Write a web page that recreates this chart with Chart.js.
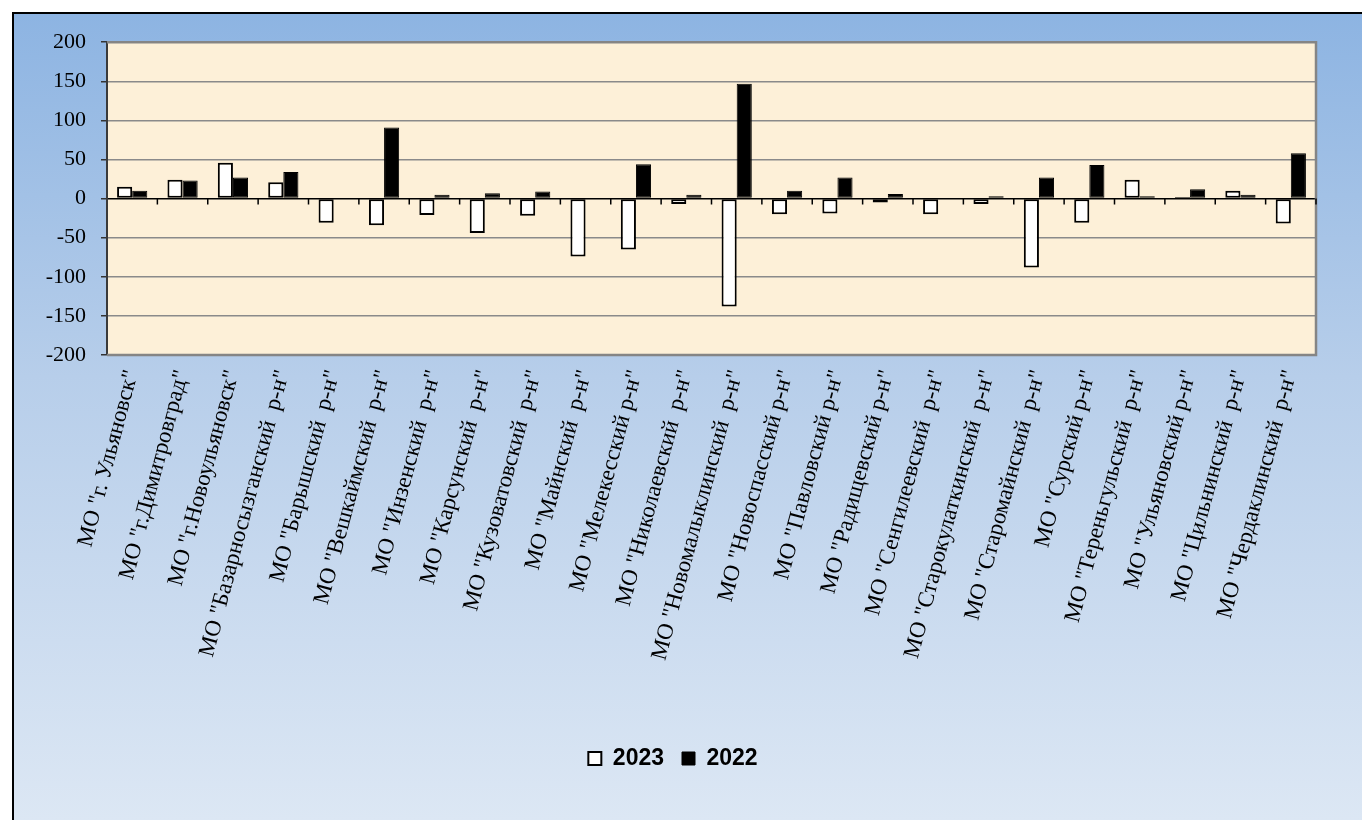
<!DOCTYPE html>
<html>
<head>
<meta charset="utf-8">
<script src="https://cdn.jsdelivr.net/npm/chart.js@4.4.1/dist/chart.umd.min.js"></script>
<style>
  html, body { margin: 0; padding: 0; background: #ffffff; width: 1362px; height: 820px; overflow: hidden; }
  #frame {
    position: absolute; left: 12px; top: 12px; width: 1348px; height: 806px;
    border-left: 2px solid #000; border-top: 2px solid #000;
    background: linear-gradient(to bottom, #8db4e2 0%, #b7ceea 45%, #dce7f4 100%);
  }
  canvas { display: block; }
</style>
</head>
<body>
<div id="frame"><canvas id="chart" width="1348" height="806"></canvas></div>
<script>
// Municipal districts of Ulyanovsk oblast
const categories = [
  'МО "г. Ульяновск"',
  'МО "г.Димитровград"',
  'МО "г.Новоульяновск"',
  'МО "Базарносызганский  р-н"',
  'МО "Барышский  р-н"',
  'МО "Вешкаймский  р-н"',
  'МО "Инзенский  р-н"',
  'МО "Карсунский  р-н"',
  'МО "Кузоватовский  р-н"',
  'МО "Майнский  р-н"',
  'МО "Мелекесский р-н"',
  'МО "Николаевский  р-н"',
  'МО "Новомалыклинский  р-н"',
  'МО "Новоспасский р-н"',
  'МО "Павловский р-н"',
  'МО "Радищевский р-н"',
  'МО "Сенгилеевский  р-н"',
  'МО "Старокулаткинский  р-н"',
  'МО "Старомайнский  р-н"',
  'МО "Сурский р-н"',
  'МО "Тереньгульский  р-н"',
  'МО "Ульяновский р-н"',
  'МО "Цильнинский  р-н"',
  'МО "Чердаклинский  р-н"'
];

const values2023 = [15, 24, 46, 21, -31, -34, -21, -44, -22, -74, -65, -7, -138, -20, -19, -5, -20, -7, -88, -31, 24, 2, 10, -32];
const values2022 = [10, 23, 27, 34, 0, 91, 5, 7, 9, 0, 44, 5, 147, 10, 27, 6, 0, 3, 27, 43, 3, 12, 5, 58];

const yMin = -200;
const yMax = 200;
const yStep = 50;

// cream plot area with a grey frame
const plotArea = {
  id: 'plotArea',
  beforeDraw(chart) {
    const { ctx, chartArea: a } = chart;
    ctx.save();
    ctx.fillStyle = '#fdf0d8';
    ctx.fillRect(a.left, a.top, a.right - a.left, a.bottom - a.top);
    ctx.restore();
  },
  afterDatasetsDraw(chart) {
    const { ctx, chartArea: a } = chart;
    ctx.save();
    ctx.strokeStyle = '#858585';
    ctx.lineWidth = 2.5;
    ctx.beginPath();
    ctx.moveTo(a.left, a.top);
    ctx.lineTo(a.right, a.top);
    ctx.lineTo(a.right, a.bottom);
    ctx.lineTo(a.left, a.bottom);
    ctx.stroke();
    ctx.restore();
  }
};

// category tick marks hanging below the zero line
const zeroTicks = {
  id: 'zeroTicks',
  afterDatasetsDraw(chart) {
    const { ctx } = chart;
    const x = chart.scales.x;
    const y0 = chart.scales.y.getPixelForValue(0);
    const n = categories.length;
    ctx.save();
    ctx.strokeStyle = '#000';
    ctx.lineWidth = 1.5;
    ctx.beginPath();
    for (let i = 1; i <= n; i++) {
      const px = i < n
        ? (x.getPixelForValue(i - 1) + x.getPixelForValue(i)) / 2
        : x.getPixelForValue(n - 1) + (x.getPixelForValue(n - 1) - x.getPixelForValue(n - 2)) / 2;
      ctx.moveTo(px, y0);
      ctx.lineTo(px, y0 + 6);
    }
    ctx.stroke();
    ctx.restore();
  }
};

// nudge the legend a little to the right
const legendShift = {
  id: 'legendShift',
  afterLayout(chart) {
    if (chart.legend) {
      chart.legend.left += 8;
      chart.legend.right += 8;
    }
  }
};

new Chart(document.getElementById('chart'), {
  type: 'bar',
  data: {
    labels: categories,
    datasets: [
      {
        label: '2023',
        data: values2023,
        backgroundColor: '#ffffff',
        borderColor: '#000000',
        borderWidth: 2,
        borderSkipped: false
      },
      {
        label: '2022',
        data: values2022,
        backgroundColor: '#000000',
        borderColor: '#000000',
        borderWidth: 1,
        borderSkipped: false
      }
    ]
  },
  plugins: [plotArea, zeroTicks, legendShift],
  options: {
    responsive: false,
    animation: false,
    devicePixelRatio: 1,
    layout: { padding: { top: 28, right: 46, left: 0, bottom: 40 } },
    datasets: { bar: { categoryPercentage: 0.6, barPercentage: 1.0 } },
    scales: {
      x: {
        grid: { display: false, drawTicks: false },
        border: { display: false },
        ticks: {
          autoSkip: false,
          minRotation: 75,
          maxRotation: 75,
          padding: 12,
          color: '#000',
          font: { family: '"Liberation Serif", "Times New Roman", serif', size: 23 }
        },
        afterFit(scale) { scale.height = 374; }
      },
      y: {
        min: yMin,
        max: yMax,
        ticks: {
          stepSize: yStep,
          padding: 15,
          color: '#000',
          font: { family: '"Liberation Serif", "Times New Roman", serif', size: 22 }
        },
        grid: {
          color: (c) => (c.tick && c.tick.value === 0 ? '#000000' : '#8a8a8a'),
          lineWidth: 1.5,
          tickColor: '#333333',
          tickLength: 6,
          drawTicks: true
        },
        border: { display: true, color: '#3a3a3a', width: 2 },
        afterFit(scale) { scale.width = 93; }
      }
    },
    plugins: {
      legend: {
        position: 'bottom',
        labels: {
          boxWidth: 13,
          boxHeight: 13,
          padding: 18,
          color: '#000',
          font: { family: '"Liberation Sans", Arial, sans-serif', size: 23, weight: 'bold' }
        }
      },
      tooltip: { enabled: false }
    }
  }
});
</script>
</body>
</html>
